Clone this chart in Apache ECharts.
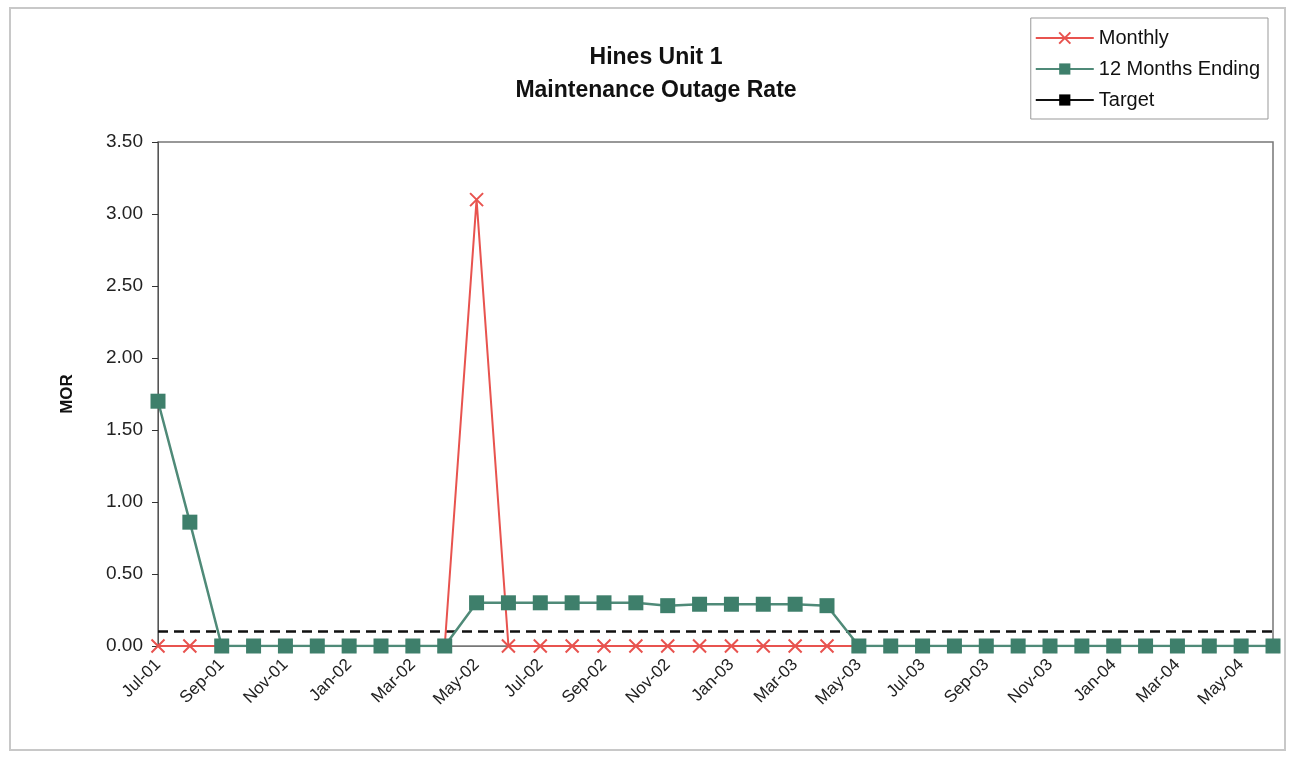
<!DOCTYPE html>
<html><head><meta charset="utf-8">
<script src="https://cdn.jsdelivr.net/npm/echarts@6/dist/echarts.min.js"></script>
<style>html,body{margin:0;padding:0;background:#fff}#c{width:1293px;height:758px}</style>
</head><body><div id="c"></div>
<script>
const months = ["Jul-01","Aug-01","Sep-01","Oct-01","Nov-01","Dec-01","Jan-02","Feb-02","Mar-02","Apr-02","May-02","Jun-02",
"Jul-02","Aug-02","Sep-02","Oct-02","Nov-02","Dec-02","Jan-03","Feb-03","Mar-03","Apr-03","May-03","Jun-03",
"Jul-03","Aug-03","Sep-03","Oct-03","Nov-03","Dec-03","Jan-04","Feb-04","Mar-04","Apr-04","May-04","Jun-04"];
const monthly = [0,0,0,0,0,0,0,0,0,0,3.10,0,0,0,0,0,0,0,0,0,0,0,0,0,0,0,0,0,0,0,0,0,0,0,0,0];
const twelveMonths = [1.70,0.86,0,0,0,0,0,0,0,0,0.30,0.30,0.30,0.30,0.30,0.30,0.28,0.29,0.29,0.29,0.29,0.28,0,0,0,0,0,0,0,0,0,0,0,0,0,0];
const target = months.map(() => 0.10);

const chart = echarts.init(document.getElementById('c'));
const font = 'Liberation Sans, Arial, sans-serif';
chart.setOption({
  animation: false,
  textStyle: {fontFamily: font},
  graphic: [{type:'rect', shape:{x:10,y:8,width:1275,height:742}, style:{fill:'none', stroke:'#c8c8c8', lineWidth:2}, z:-10}],
  title: {
    text: 'Hines Unit 1\nMaintenance Outage Rate',
    left: 651, top: 36, textAlign: 'center',
    textStyle: {fontSize: 23, fontWeight: 'bold', color: '#111', lineHeight: 33, fontFamily: font}
  },
  legend: {
    orient: 'vertical', right: 25, top: 18,
    borderColor: '#999', borderWidth: 1, padding: [10, 8, 9, 4],
    itemGap: 11, itemWidth: 58, itemHeight: 14,
    textStyle: {fontSize: 20, color: '#111', fontFamily: font},
    data: ['Monthly','12 Months Ending', {name: 'Target', lineStyle: {type: 'solid', width: 2}}]
  },
  grid: {left: 158, top: 142, right: 20, bottom: 112, show: true, borderColor: '#777', borderWidth: 1.5, backgroundColor: '#fff'},
  xAxis: {
    type: 'category', data: months, boundaryGap: false,
    axisLine: {show: true, lineStyle: {color: '#777'}},
    axisTick: {show: false},
    axisLabel: {interval: 1, rotate: 45, fontSize: 17, color: '#222', margin: 16, fontFamily: font},
    splitLine: {show: false}
  },
  yAxis: {
    type: 'value', min: 0, max: 3.5, interval: 0.5,
    name: 'MOR', nameLocation: 'middle', nameGap: 82, nameRotate: 90,
    nameTextStyle: {fontSize: 17, fontWeight: 'bold', color: '#111', fontFamily: font},
    axisLine: {show: true, lineStyle: {color: '#555'}},
    axisTick: {show: true, inside: false, length: 6, lineStyle: {color: '#333'}},
    axisLabel: {formatter: v => v.toFixed(2), fontSize: 19, color: '#222', margin: 15, fontFamily: font},
    splitLine: {show: false}
  },
  series: [
    {name: 'Target', type: 'line', data: target, symbol: 'rect', symbolSize: [14, 4], showSymbol: false,
     itemStyle: {color: '#000'}, lineStyle: {color: '#111', width: 2.5, type: [10, 6]}, z: 1},
    {name: 'Monthly', type: 'line', data: monthly, symbol: 'path://M0,0 L10,10 M10,0 L0,10', symbolSize: 13,
     itemStyle: {color: '#e8534f', borderColor: '#e8534f', borderWidth: 2}, lineStyle: {color: '#e8534f', width: 2}, z: 2},
    {name: '12 Months Ending', type: 'line', data: twelveMonths, symbol: 'rect', symbolSize: 15,
     itemStyle: {color: '#3e7f6b'}, lineStyle: {color: '#4f8a78', width: 2.5}, z: 3}
  ]
});
</script></body></html>
